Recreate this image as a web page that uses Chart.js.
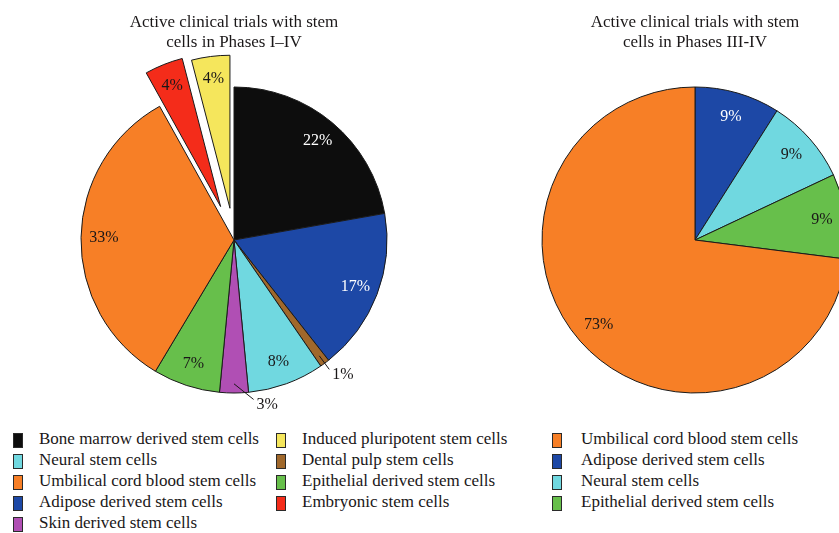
<!DOCTYPE html>
<html>
<head>
<meta charset="utf-8">
<script src="https://cdn.jsdelivr.net/npm/chart.js@4.4.0/dist/chart.umd.min.js"></script>
<style>
  body { margin: 0; width: 839px; height: 533px; overflow: hidden; background: #fff; position: relative;
         font-family: 'Liberation Serif', serif; color: #1a1718; }
  .box { position: absolute; top: 0; height: 420px; }
  #leftBox { left: 0; width: 468px; }
  #rightBox { left: 495px; width: 400px; }
  .legend { position: absolute; top: 431px; font-size: 17px; }
  .legend .item { position: relative; height: 21px; line-height: 15px; padding-left: 26px; white-space: nowrap; }
  .legend .sw { position: absolute; left: 0; top: 2px; width: 8px; height: 13px; border: 1px solid #2a2a2a; }
</style>
</head>
<body>
<div class="box" id="leftBox"><canvas id="leftChart"></canvas></div>
<div class="box" id="rightBox"><canvas id="rightChart"></canvas></div>
<div class="legend" id="legCol1" style="left:13px"></div>
<div class="legend" id="legCol2" style="left:276px"></div>
<div class="legend" id="legCol3" style="left:552px"></div>
<script>
// left pie, slices in clockwise order from 12 o'clock
var leftCategories = ['Bone marrow derived stem cells', 'Adipose derived stem cells', 'Dental pulp stem cells',
    'Neural stem cells', 'Skin derived stem cells', 'Epithelial derived stem cells',
    'Umbilical cord blood stem cells', 'Embryonic stem cells', 'Induced pluripotent stem cells'];
var leftValues = [22, 17, 1, 8, 3, 7, 33, 4, 4];
var leftColors = ['#0d0d0d', '#1d48a6', '#a0682b', '#70d8e0', '#b04fb4', '#67bf4b', '#f77f26', '#f42c1a', '#f5e65c'];
var leftTextColors = ['#fff', '#fff', '#1a1718', '#1a1718', '#1a1718', '#1a1718', '#1a1718', '#1a1718', '#1a1718'];
var leftExplode = [0, 0, 0, 0, 0, 0, 0, 36, 32];
var leftLeaders = [null, null, 0, null, -7, null, null, null, null];
var leftLegend = [[0, 3, 6, 1, 4], [8, 2, 5, 7]];

// right pie
var rightCategories = ['Adipose derived stem cells', 'Neural stem cells', 'Epithelial derived stem cells',
    'Umbilical cord blood stem cells'];
var rightValues = [9, 9, 9, 73];
var rightColors = ['#1d48a6', '#70d8e0', '#67bf4b', '#f77f26'];
var rightTextColors = ['#fff', '#1a1718', '#1a1718', '#1a1718'];
var rightLegend = [3, 0, 1, 2];

var FONT = "'Liberation Serif', serif";

// pie that can pull single slices out without growing them
class ExplodedPie extends Chart.PieController {
    draw() {
        var ctx = this.chart.ctx;
        var explode = this.getDataset().explode || [];
        this._cachedMeta.data.forEach((arc, i) => {
            var d = explode[i] || 0;
            var mid = (arc.startAngle + arc.endAngle) / 2;
            ctx.save();
            ctx.translate(Math.cos(mid) * d, Math.sin(mid) * d);
            arc.draw(ctx, this.chart.chartArea);
            ctx.restore();
        });
    }
}
ExplodedPie.id = 'explodedPie';
Chart.register(ExplodedPie);

var sliceLabels = {
    id: 'sliceLabels',
    afterDatasetsDraw(chart, args, opts) {
        var ctx = chart.ctx;
        var ds = chart.data.datasets[0];
        var explode = ds.explode || [];
        ctx.save();
        ctx.font = '16px ' + FONT;
        chart.getDatasetMeta(0).data.forEach((arc, i) => {
            var p = arc.getProps(['x', 'y', 'startAngle', 'endAngle', 'outerRadius'], true);
            var mid = (p.startAngle + p.endAngle) / 2;
            var d = explode[i] || 0;
            var cx = p.x + Math.cos(mid) * d, cy = p.y + Math.sin(mid) * d;
            var r = p.outerRadius;
            var text = ds.data[i] + '%';
            var lead = opts.leaders ? opts.leaders[i] : null;
            ctx.fillStyle = opts.colors[i];
            if (lead === null || lead === undefined) {
                ctx.textAlign = 'center';
                ctx.textBaseline = 'middle';
                ctx.fillText(text, cx + Math.cos(mid) * r * opts.inset, cy + Math.sin(mid) * r * opts.inset);
            } else {
                var a2 = mid + lead * Math.PI / 180;
                var x0 = cx + Math.cos(mid) * r * 0.94, y0 = cy + Math.sin(mid) * r * 0.94;
                var x1 = cx + Math.cos(a2) * r * 1.05, y1 = cy + Math.sin(a2) * r * 1.05;
                ctx.strokeStyle = '#1a1718';
                ctx.lineWidth = 1;
                ctx.beginPath();
                ctx.moveTo(x0, y0);
                ctx.lineTo(x1, y1);
                ctx.stroke();
                ctx.textAlign = 'left';
                ctx.textBaseline = 'middle';
                ctx.fillText(text, x1 + 3, y1 + 5);
            }
        });
        ctx.restore();
    }
};

function makePie(id, title, cats, values, colors, textColors, explode, leaders, inset) {
    return new Chart(document.getElementById(id), {
        type: 'explodedPie',
        data: {
            labels: cats,
            datasets: [{
                data: values,
                explode: explode,
                backgroundColor: colors,
                borderColor: '#1a1a1a',
                borderWidth: 1,
                hoverBorderWidth: 1,
                hoverOffset: 0,
                radius: 153
            }]
        },
        options: {
            responsive: true,
            maintainAspectRatio: false,
            animation: false,
            events: [],
            layout: { padding: 0 },
            plugins: {
                legend: { display: false },
                tooltip: { enabled: false },
                title: {
                    display: true,
                    text: title,
                    color: '#1a1718',
                    font: { family: FONT, size: 17, weight: 'normal', lineHeight: 20 / 17 },
                    padding: { top: 13, bottom: 7 }
                },
                sliceLabels: { colors: textColors, leaders: leaders, inset: inset }
            }
        },
        plugins: [sliceLabels]
    });
}

makePie('leftChart', ['Active clinical trials with stem', 'cells in Phases I\u2013IV'],
    leftCategories, leftValues, leftColors, leftTextColors, leftExplode, leftLeaders, 0.85);
makePie('rightChart', ['Active clinical trials with stem', 'cells in Phases III-IV'],
    rightCategories, rightValues, rightColors, rightTextColors, null, null, 0.84);

function fillLegend(elId, idx, cats, colors) {
    var col = document.getElementById(elId);
    idx.forEach(i => {
        var item = document.createElement('div');
        item.className = 'item';
        var sw = document.createElement('span');
        sw.className = 'sw';
        sw.style.background = colors[i];
        item.appendChild(sw);
        item.appendChild(document.createTextNode(cats[i]));
        col.appendChild(item);
    });
}
fillLegend('legCol1', leftLegend[0], leftCategories, leftColors);
fillLegend('legCol2', leftLegend[1], leftCategories, leftColors);
fillLegend('legCol3', rightLegend, rightCategories, rightColors);
document.getElementById('legCol3').querySelectorAll('.item').forEach(el => el.style.paddingLeft = '29px');
</script>
</body>
</html>
